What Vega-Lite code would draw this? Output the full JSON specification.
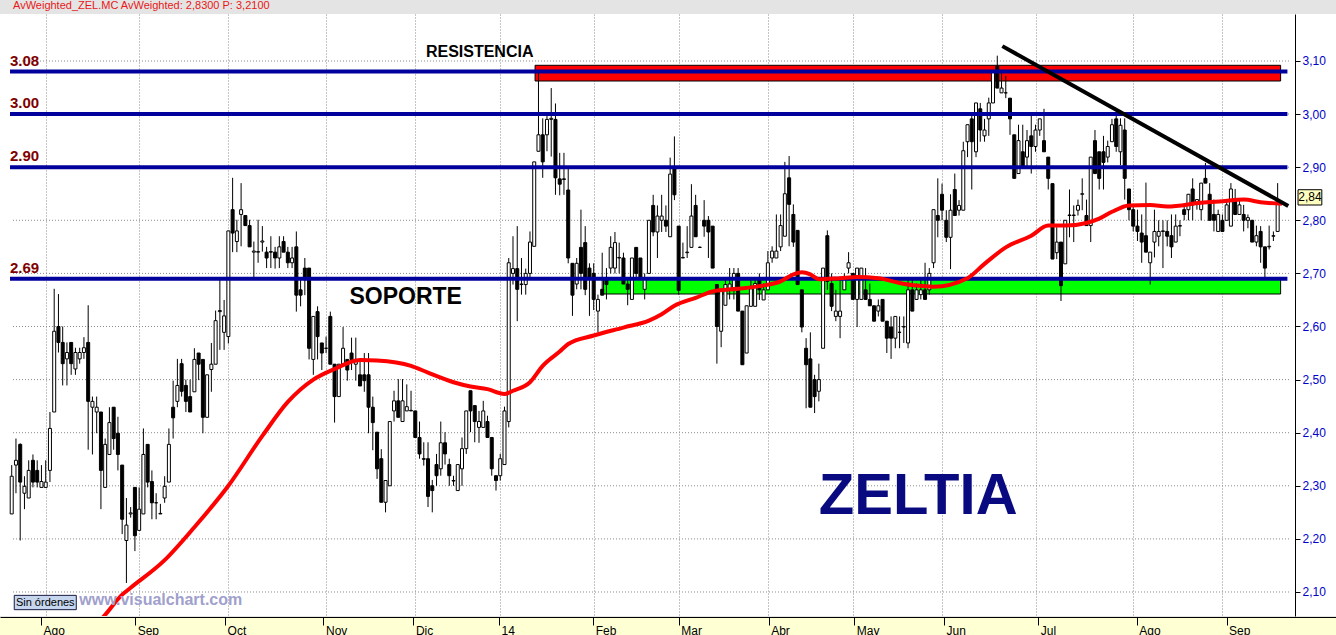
{
"$schema": "https://vega.github.io/schema/vega-lite/v6.json",
"background": "#E4E4E4",
"padding": 0,
"spacing": 0,
"config": {"view": {"stroke": null}, "font": "Liberation Sans", "axis": {"labelFont": "Liberation Sans"}},
"title": {"text": "AvWeighted_ZEL.MC  AvWeighted: 2,8300  P: 3,2100", "anchor": "start", "frame": "group", "dx": 13, "offset": 3, "fontSize": 11, "fontWeight": "normal", "font": "Liberation Sans", "color": "#E81818"},
"resolve": {"scale": {"x": "independent", "y": "independent"}},
"datasets": {
"grid": [{"v":2.1,"d":-7.7,"d2":293},{"v":2.2,"d":-7.7,"d2":293},{"v":2.3,"d":-7.7,"d2":293},{"v":2.4,"d":-7.7,"d2":293},{"v":2.5,"d":-7.7,"d2":293},{"v":2.6,"d":-7.7,"d2":293},{"v":2.7,"d":-7.7,"d2":293},{"v":2.8,"d":-7.7,"d2":293},{"v":2.9,"d":-7.7,"d2":293},{"v":3.0,"d":-7.7,"d2":293},{"v":3.1,"d":-7.7,"d2":293}],
"months": [{"d":0,"m":"Ago"},{"d":22,"m":"Sep"},{"d":43,"m":"Oct"},{"d":66,"m":"Nov"},{"d":87,"m":"Dic"},{"d":107,"m":"14"},{"d":129,"m":"Feb"},{"d":149,"m":"Mar"},{"d":170,"m":"Abr"},{"d":190,"m":"May"},{"d":211,"m":"Jun"},{"d":233,"m":"Jul"},{"d":256,"m":"Ago"},{"d":277,"m":"Sep"}],
"zones": [{"k":"resistencia","d":115.2,"d2":290.7,"v":3.0623,"v2":3.0919},{"k":"soporte","d":131.3,"d2":290.7,"v":2.6612,"v2":2.6913}],
"levels": [{"t":"3.08","v":3.08,"d":-8.4,"d2":292.3},{"t":"3.00","v":3.0,"d":-8.4,"d2":292.3},{"t":"2.90","v":2.9,"d":-8.4,"d2":292.3},{"t":"2.69","v":2.69,"d":-8.4,"d2":292.3}],
"trend": [{"d":225.2,"v":3.128},{"d":292.5,"v":2.827}],
"ma": [{"d":-3,"v":1.93},{"d":14,"v":2.057},{"d":18,"v":2.095},{"d":20,"v":2.108},{"d":28,"v":2.16},{"d":35,"v":2.222},{"d":43,"v":2.3},{"d":51,"v":2.394},{"d":57,"v":2.458},{"d":63,"v":2.5},{"d":68,"v":2.52},{"d":74,"v":2.537},{"d":78,"v":2.536},{"d":86,"v":2.526},{"d":90,"v":2.513},{"d":96,"v":2.495},{"d":100,"v":2.487},{"d":104,"v":2.482},{"d":108,"v":2.473},{"d":110,"v":2.479},{"d":114,"v":2.495},{"d":117,"v":2.526},{"d":121,"v":2.553},{"d":123,"v":2.567},{"d":129,"v":2.583},{"d":136,"v":2.598},{"d":142,"v":2.611},{"d":145,"v":2.623},{"d":148,"v":2.639},{"d":153,"v":2.654},{"d":157,"v":2.666},{"d":163,"v":2.671},{"d":168,"v":2.676},{"d":173,"v":2.685},{"d":176,"v":2.698},{"d":178,"v":2.702},{"d":180,"v":2.698},{"d":182,"v":2.689},{"d":187,"v":2.691},{"d":191,"v":2.693},{"d":196,"v":2.691},{"d":201,"v":2.682},{"d":205,"v":2.677},{"d":209,"v":2.675},{"d":217,"v":2.691},{"d":221,"v":2.718},{"d":226,"v":2.749},{"d":232,"v":2.771},{"d":236,"v":2.79},{"d":240,"v":2.79},{"d":245,"v":2.795},{"d":248,"v":2.803},{"d":251,"v":2.816},{"d":255,"v":2.828},{"d":260,"v":2.829},{"d":264,"v":2.826},{"d":272,"v":2.833},{"d":277,"v":2.836},{"d":282,"v":2.839},{"d":286,"v":2.834},{"d":291,"v":2.831}],
"notes": [{"t":"RESISTENCIA","d":89.5,"v":3.117}],
"notes2": [{"t":"SOPORTE","d":71.5,"v":2.6556}],
"notes3": [{"t":"ZELTIA","d":182,"v":2.279}],
"mark": [{"t":"www.visualchart.com","d":7.9,"v":2.085}],
"status": [{"t":"Sin órdenes","d":-7.4,"d2":7.2,"v":2.0667,"v2":2.0937,"dc":-0.1,"vc":2.08}],
"tag": [{"t":"2,84","d":294.8,"d2":300.4,"v":2.8288,"v2":2.8576,"dc":297.6,"vc":2.843}],
"candles": [
{"d":-8,"o":2.247,"h":2.339,"l":2.247,"c":2.318},{"d":-7,"o":2.339,"h":2.389,"l":2.286,"c":2.348},{"d":-6,"o":2.378,"h":2.38,"l":2.197,"c":2.307},{"d":-5,"o":2.286,"h":2.318,"l":2.256,"c":2.299},{"d":-4,"o":2.277,"h":2.348,"l":2.277,"c":2.329},{"d":-3,"o":2.348,"h":2.359,"l":2.297,"c":2.307},{"d":-2,"o":2.329,"h":2.348,"l":2.297,"c":2.307},{"d":-1,"o":2.297,"h":2.339,"l":2.297,"c":2.308},
{"d":0,"o":2.297,"h":2.348,"l":2.297,"c":2.307},{"d":1,"o":2.329,"h":2.439,"l":2.307,"c":2.408},{"d":2,"o":2.439,"h":2.671,"l":2.439,"c":2.591},{"d":3,"o":2.6,"h":2.661,"l":2.551,"c":2.57},{"d":4,"o":2.57,"h":2.6,"l":2.489,"c":2.53},{"d":5,"o":2.539,"h":2.57,"l":2.489,"c":2.551},{"d":6,"o":2.57,"h":2.57,"l":2.509,"c":2.53},{"d":7,"o":2.52,"h":2.56,"l":2.509,"c":2.551},{"d":8,"o":2.539,"h":2.56,"l":2.53,"c":2.551},{"d":9,"o":2.551,"h":2.58,"l":2.539,"c":2.56},
{"d":10,"o":2.57,"h":2.64,"l":2.368,"c":2.459},{"d":11,"o":2.448,"h":2.468,"l":2.359,"c":2.459},{"d":12,"o":2.439,"h":2.468,"l":2.399,"c":2.448},{"d":13,"o":2.439,"h":2.439,"l":2.256,"c":2.329},{"d":14,"o":2.297,"h":2.389,"l":2.297,"c":2.378},{"d":15,"o":2.359,"h":2.448,"l":2.359,"c":2.419},{"d":16,"o":2.448,"h":2.448,"l":2.368,"c":2.389},{"d":17,"o":2.399,"h":2.43,"l":2.329,"c":2.359},{"d":18,"o":2.339,"h":2.339,"l":2.209,"c":2.237},{"d":19,"o":2.197,"h":2.277,"l":2.117,"c":2.226},
{"d":20,"o":2.247,"h":2.26,"l":2.24,"c":2.249},{"d":21,"o":2.297,"h":2.297,"l":2.177,"c":2.206},{"d":22,"o":2.216,"h":2.297,"l":2.216,"c":2.256},{"d":23,"o":2.247,"h":2.408,"l":2.247,"c":2.359},{"d":24,"o":2.378,"h":2.378,"l":2.297,"c":2.307},{"d":25,"o":2.308,"h":2.329,"l":2.237,"c":2.268},{"d":26,"o":2.268,"h":2.286,"l":2.237,"c":2.268},{"d":27,"o":2.247,"h":2.266,"l":2.247,"c":2.248},{"d":28,"o":2.277,"h":2.318,"l":2.268,"c":2.299},{"d":29,"o":2.307,"h":2.408,"l":2.307,"c":2.378},
{"d":30,"o":2.448,"h":2.498,"l":2.389,"c":2.428},{"d":31,"o":2.459,"h":2.539,"l":2.448,"c":2.489},{"d":32,"o":2.53,"h":2.539,"l":2.468,"c":2.478},{"d":33,"o":2.489,"h":2.5,"l":2.439,"c":2.459},{"d":34,"o":2.468,"h":2.5,"l":2.439,"c":2.439},{"d":35,"o":2.477,"h":2.559,"l":2.477,"c":2.538},{"d":36,"o":2.55,"h":2.55,"l":2.499,"c":2.529},{"d":37,"o":2.538,"h":2.538,"l":2.399,"c":2.429},{"d":38,"o":2.429,"h":2.509,"l":2.429,"c":2.509},{"d":39,"o":2.519,"h":2.569,"l":2.477,"c":2.529},
{"d":40,"o":2.529,"h":2.63,"l":2.529,"c":2.611},{"d":41,"o":2.628,"h":2.688,"l":2.556,"c":2.63},{"d":42,"o":2.589,"h":2.65,"l":2.556,"c":2.62},{"d":43,"o":2.581,"h":2.78,"l":2.568,"c":2.78},{"d":44,"o":2.82,"h":2.88,"l":2.74,"c":2.776},{"d":45,"o":2.76,"h":2.801,"l":2.74,"c":2.78},{"d":46,"o":2.811,"h":2.87,"l":2.751,"c":2.82},{"d":47,"o":2.809,"h":2.809,"l":2.79,"c":2.79},{"d":48,"o":2.79,"h":2.801,"l":2.75,"c":2.75},{"d":49,"o":2.74,"h":2.76,"l":2.69,"c":2.742},
{"d":50,"o":2.74,"h":2.801,"l":2.72,"c":2.741},{"d":51,"o":2.759,"h":2.789,"l":2.741,"c":2.761},{"d":52,"o":2.74,"h":2.75,"l":2.71,"c":2.729},{"d":53,"o":2.741,"h":2.77,"l":2.71,"c":2.74},{"d":54,"o":2.74,"h":2.75,"l":2.709,"c":2.729},{"d":55,"o":2.729,"h":2.77,"l":2.71,"c":2.75},{"d":56,"o":2.76,"h":2.77,"l":2.74,"c":2.74},{"d":57,"o":2.74,"h":2.75,"l":2.71,"c":2.72},{"d":58,"o":2.72,"h":2.75,"l":2.71,"c":2.729},{"d":59,"o":2.75,"h":2.779,"l":2.628,"c":2.659},
{"d":60,"o":2.669,"h":2.689,"l":2.638,"c":2.659},{"d":61,"o":2.71,"h":2.729,"l":2.659,"c":2.688},{"d":62,"o":2.71,"h":2.71,"l":2.538,"c":2.559},{"d":63,"o":2.538,"h":2.619,"l":2.509,"c":2.619},{"d":64,"o":2.628,"h":2.638,"l":2.538,"c":2.581},{"d":65,"o":2.569,"h":2.569,"l":2.518,"c":2.55},{"d":66,"o":2.559,"h":2.581,"l":2.55,"c":2.559},{"d":67,"o":2.619,"h":2.628,"l":2.529,"c":2.529},{"d":68,"o":2.529,"h":2.529,"l":2.419,"c":2.468},{"d":69,"o":2.468,"h":2.529,"l":2.468,"c":2.529},
{"d":70,"o":2.529,"h":2.599,"l":2.529,"c":2.559},{"d":71,"o":2.538,"h":2.538,"l":2.498,"c":2.518},{"d":72,"o":2.55,"h":2.579,"l":2.518,"c":2.538},{"d":73,"o":2.529,"h":2.579,"l":2.498,"c":2.538},{"d":74,"o":2.509,"h":2.538,"l":2.488,"c":2.488},{"d":75,"o":2.509,"h":2.55,"l":2.477,"c":2.498},{"d":76,"o":2.509,"h":2.55,"l":2.399,"c":2.448},{"d":77,"o":2.448,"h":2.468,"l":2.367,"c":2.419},{"d":78,"o":2.401,"h":2.401,"l":2.313,"c":2.332},{"d":79,"o":2.351,"h":2.369,"l":2.269,"c":2.269},
{"d":80,"o":2.269,"h":2.31,"l":2.25,"c":2.31},{"d":81,"o":2.3,"h":2.421,"l":2.3,"c":2.421},{"d":82,"o":2.441,"h":2.479,"l":2.421,"c":2.46},{"d":83,"o":2.46,"h":2.501,"l":2.429,"c":2.429},{"d":84,"o":2.421,"h":2.501,"l":2.421,"c":2.46},{"d":85,"o":2.441,"h":2.491,"l":2.441,"c":2.449},{"d":86,"o":2.441,"h":2.479,"l":2.441,"c":2.442},{"d":87,"o":2.441,"h":2.441,"l":2.391,"c":2.391},{"d":88,"o":2.391,"h":2.421,"l":2.351,"c":2.36},{"d":89,"o":2.351,"h":2.382,"l":2.338,"c":2.35},
{"d":90,"o":2.351,"h":2.382,"l":2.26,"c":2.28},{"d":91,"o":2.3,"h":2.311,"l":2.25,"c":2.291},{"d":92,"o":2.34,"h":2.36,"l":2.3,"c":2.319},{"d":93,"o":2.332,"h":2.421,"l":2.319,"c":2.381},{"d":94,"o":2.381,"h":2.401,"l":2.34,"c":2.36},{"d":95,"o":2.34,"h":2.351,"l":2.3,"c":2.319},{"d":96,"o":2.31,"h":2.319,"l":2.3,"c":2.309},{"d":97,"o":2.291,"h":2.34,"l":2.291,"c":2.34},{"d":98,"o":2.332,"h":2.391,"l":2.3,"c":2.37},{"d":99,"o":2.37,"h":2.441,"l":2.36,"c":2.441},
{"d":100,"o":2.479,"h":2.479,"l":2.401,"c":2.441},{"d":101,"o":2.451,"h":2.451,"l":2.382,"c":2.421},{"d":102,"o":2.41,"h":2.441,"l":2.381,"c":2.421},{"d":103,"o":2.41,"h":2.46,"l":2.41,"c":2.441},{"d":104,"o":2.421,"h":2.432,"l":2.391,"c":2.391},{"d":105,"o":2.391,"h":2.391,"l":2.319,"c":2.332},{"d":106,"o":2.319,"h":2.319,"l":2.291,"c":2.31},{"d":107,"o":2.319,"h":2.36,"l":2.31,"c":2.351},{"d":108,"o":2.34,"h":2.449,"l":2.34,"c":2.441},{"d":109,"o":2.421,"h":2.729,"l":2.41,"c":2.72},
{"d":110,"o":2.7,"h":2.77,"l":2.679,"c":2.709},{"d":111,"o":2.709,"h":2.789,"l":2.61,"c":2.67},{"d":112,"o":2.679,"h":2.729,"l":2.66,"c":2.68},{"d":113,"o":2.679,"h":2.709,"l":2.66,"c":2.7},{"d":114,"o":2.7,"h":2.779,"l":2.689,"c":2.759},{"d":115,"o":2.751,"h":2.91,"l":2.751,"c":2.91},{"d":116,"o":2.93,"h":3.08,"l":2.93,"c":2.961},{"d":117,"o":2.961,"h":2.992,"l":2.88,"c":2.91},{"d":118,"o":2.961,"h":3.002,"l":2.93,"c":2.99},{"d":119,"o":2.99,"h":3.049,"l":2.92,"c":2.992},
{"d":120,"o":2.99,"h":3.02,"l":2.848,"c":2.88},{"d":121,"o":2.878,"h":2.927,"l":2.847,"c":2.868},{"d":122,"o":2.878,"h":2.927,"l":2.848,"c":2.877},{"d":123,"o":2.857,"h":2.899,"l":2.719,"c":2.729},{"d":124,"o":2.719,"h":2.719,"l":2.62,"c":2.659},{"d":125,"o":2.68,"h":2.729,"l":2.67,"c":2.719},{"d":126,"o":2.749,"h":2.82,"l":2.67,"c":2.7},{"d":127,"o":2.758,"h":2.789,"l":2.659,"c":2.67},{"d":128,"o":2.71,"h":2.719,"l":2.62,"c":2.689},{"d":129,"o":2.7,"h":2.719,"l":2.631,"c":2.651},
{"d":130,"o":2.629,"h":2.66,"l":2.589,"c":2.651},{"d":131,"o":2.67,"h":2.739,"l":2.659,"c":2.659},{"d":132,"o":2.689,"h":2.71,"l":2.651,"c":2.679},{"d":133,"o":2.71,"h":2.77,"l":2.7,"c":2.749},{"d":134,"o":2.71,"h":2.778,"l":2.7,"c":2.758},{"d":135,"o":2.729,"h":2.758,"l":2.7,"c":2.73},{"d":136,"o":2.729,"h":2.739,"l":2.68,"c":2.68},{"d":137,"o":2.68,"h":2.689,"l":2.64,"c":2.67},{"d":138,"o":2.651,"h":2.729,"l":2.651,"c":2.729},{"d":139,"o":2.749,"h":2.749,"l":2.689,"c":2.7},
{"d":140,"o":2.729,"h":2.729,"l":2.689,"c":2.689},{"d":141,"o":2.67,"h":2.7,"l":2.651,"c":2.689},{"d":142,"o":2.7,"h":2.8,"l":2.7,"c":2.8},{"d":143,"o":2.828,"h":2.848,"l":2.77,"c":2.778},{"d":144,"o":2.778,"h":2.828,"l":2.729,"c":2.808},{"d":145,"o":2.8,"h":2.848,"l":2.778,"c":2.808},{"d":146,"o":2.8,"h":2.828,"l":2.778,"c":2.789},{"d":147,"o":2.769,"h":2.918,"l":2.769,"c":2.887},{"d":148,"o":2.897,"h":2.958,"l":2.838,"c":2.848},{"d":149,"o":2.789,"h":2.789,"l":2.66,"c":2.668},
{"d":150,"o":2.729,"h":2.758,"l":2.729,"c":2.73},{"d":151,"o":2.739,"h":2.789,"l":2.729,"c":2.74},{"d":152,"o":2.749,"h":2.868,"l":2.749,"c":2.808},{"d":153,"o":2.828,"h":2.848,"l":2.769,"c":2.769},{"d":154,"o":2.749,"h":2.751,"l":2.748,"c":2.749},{"d":155,"o":2.8,"h":2.838,"l":2.769,"c":2.789},{"d":156,"o":2.8,"h":2.808,"l":2.729,"c":2.778},{"d":157,"o":2.789,"h":2.789,"l":2.71,"c":2.71},{"d":158,"o":2.679,"h":2.679,"l":2.53,"c":2.6},{"d":159,"o":2.591,"h":2.67,"l":2.561,"c":2.67},
{"d":160,"o":2.64,"h":2.689,"l":2.64,"c":2.679},{"d":161,"o":2.67,"h":2.71,"l":2.651,"c":2.68},{"d":162,"o":2.67,"h":2.71,"l":2.651,"c":2.7},{"d":163,"o":2.7,"h":2.71,"l":2.629,"c":2.629},{"d":164,"o":2.629,"h":2.629,"l":2.528,"c":2.528},{"d":165,"o":2.55,"h":2.639,"l":2.55,"c":2.639},{"d":166,"o":2.638,"h":2.688,"l":2.638,"c":2.671},{"d":167,"o":2.638,"h":2.689,"l":2.638,"c":2.681},{"d":168,"o":2.688,"h":2.7,"l":2.65,"c":2.669},{"d":169,"o":2.65,"h":2.681,"l":2.65,"c":2.669},
{"d":170,"o":2.669,"h":2.742,"l":2.669,"c":2.72},{"d":171,"o":2.729,"h":2.751,"l":2.72,"c":2.742},{"d":172,"o":2.729,"h":2.811,"l":2.729,"c":2.742},{"d":173,"o":2.75,"h":2.811,"l":2.742,"c":2.79},{"d":174,"o":2.77,"h":2.91,"l":2.77,"c":2.85},{"d":175,"o":2.88,"h":2.921,"l":2.751,"c":2.83},{"d":176,"o":2.811,"h":2.83,"l":2.75,"c":2.759},{"d":177,"o":2.781,"h":2.781,"l":2.679,"c":2.679},{"d":178,"o":2.669,"h":2.669,"l":2.589,"c":2.599},{"d":179,"o":2.559,"h":2.578,"l":2.446,"c":2.528},
{"d":180,"o":2.539,"h":2.589,"l":2.448,"c":2.448},{"d":181,"o":2.5,"h":2.509,"l":2.437,"c":2.468},{"d":182,"o":2.478,"h":2.53,"l":2.459,"c":2.5},{"d":183,"o":2.559,"h":2.71,"l":2.559,"c":2.71},{"d":184,"o":2.771,"h":2.781,"l":2.669,"c":2.685},{"d":185,"o":2.681,"h":2.7,"l":2.629,"c":2.638},{"d":186,"o":2.619,"h":2.669,"l":2.61,"c":2.629},{"d":187,"o":2.619,"h":2.689,"l":2.578,"c":2.629},{"d":188,"o":2.669,"h":2.7,"l":2.669,"c":2.689},{"d":189,"o":2.71,"h":2.74,"l":2.7,"c":2.72},
{"d":190,"o":2.7,"h":2.7,"l":2.651,"c":2.651},{"d":191,"o":2.651,"h":2.71,"l":2.599,"c":2.71},{"d":192,"o":2.651,"h":2.71,"l":2.651,"c":2.71},{"d":193,"o":2.669,"h":2.71,"l":2.651,"c":2.651},{"d":194,"o":2.651,"h":2.681,"l":2.639,"c":2.639},{"d":195,"o":2.639,"h":2.639,"l":2.61,"c":2.61},{"d":196,"o":2.629,"h":2.651,"l":2.619,"c":2.639},{"d":197,"o":2.651,"h":2.651,"l":2.61,"c":2.61},{"d":198,"o":2.61,"h":2.61,"l":2.55,"c":2.578},{"d":199,"o":2.599,"h":2.619,"l":2.539,"c":2.578},
{"d":200,"o":2.578,"h":2.619,"l":2.559,"c":2.619},{"d":201,"o":2.589,"h":2.619,"l":2.559,"c":2.589},{"d":202,"o":2.599,"h":2.619,"l":2.569,"c":2.6},{"d":203,"o":2.569,"h":2.689,"l":2.559,"c":2.669},{"d":204,"o":2.669,"h":2.689,"l":2.629,"c":2.629},{"d":205,"o":2.651,"h":2.681,"l":2.651,"c":2.669},{"d":206,"o":2.66,"h":2.689,"l":2.651,"c":2.669},{"d":207,"o":2.669,"h":2.72,"l":2.651,"c":2.651},{"d":208,"o":2.669,"h":2.71,"l":2.66,"c":2.7},{"d":209,"o":2.72,"h":2.82,"l":2.71,"c":2.82},
{"d":210,"o":2.809,"h":2.879,"l":2.768,"c":2.8},{"d":211,"o":2.849,"h":2.869,"l":2.8,"c":2.819},{"d":212,"o":2.8,"h":2.819,"l":2.759,"c":2.768},{"d":213,"o":2.768,"h":2.849,"l":2.708,"c":2.819},{"d":214,"o":2.858,"h":2.888,"l":2.809,"c":2.809},{"d":215,"o":2.819,"h":2.838,"l":2.809,"c":2.828},{"d":216,"o":2.819,"h":2.948,"l":2.819,"c":2.931},{"d":217,"o":2.948,"h":2.98,"l":2.919,"c":2.98},{"d":218,"o":2.991,"h":3.001,"l":2.858,"c":2.948},{"d":219,"o":2.929,"h":3.021,"l":2.919,"c":3.021},
{"d":220,"o":3.01,"h":3.021,"l":2.948,"c":2.97},{"d":221,"o":2.959,"h":2.991,"l":2.948,"c":2.97},{"d":222,"o":2.991,"h":3.031,"l":2.959,"c":3.021},{"d":223,"o":3.021,"h":3.079,"l":3.021,"c":3.079},{"d":224,"o":3.09,"h":3.11,"l":3.049,"c":3.049},{"d":225,"o":3.04,"h":3.081,"l":3.04,"c":3.049},{"d":226,"o":3.04,"h":3.072,"l":3.03,"c":3.04},{"d":227,"o":3.03,"h":3.03,"l":2.961,"c":2.991},{"d":228,"o":2.961,"h":2.961,"l":2.879,"c":2.879},{"d":229,"o":2.888,"h":2.98,"l":2.888,"c":2.95},
{"d":230,"o":2.929,"h":2.98,"l":2.901,"c":2.901},{"d":231,"o":2.919,"h":2.97,"l":2.901,"c":2.95},{"d":232,"o":2.959,"h":3.001,"l":2.888,"c":2.939},{"d":233,"o":2.939,"h":2.98,"l":2.929,"c":2.97},{"d":234,"o":2.97,"h":2.991,"l":2.959,"c":2.991},{"d":235,"o":2.95,"h":3.01,"l":2.929,"c":2.929},{"d":236,"o":2.919,"h":2.919,"l":2.858,"c":2.879},{"d":237,"o":2.869,"h":2.869,"l":2.727,"c":2.727},{"d":238,"o":2.739,"h":2.787,"l":2.727,"c":2.759},{"d":239,"o":2.759,"h":2.759,"l":2.648,"c":2.677},
{"d":240,"o":2.718,"h":2.8,"l":2.718,"c":2.8},{"d":241,"o":2.809,"h":2.858,"l":2.768,"c":2.81},{"d":242,"o":2.809,"h":2.828,"l":2.759,"c":2.81},{"d":243,"o":2.819,"h":2.839,"l":2.809,"c":2.828},{"d":244,"o":2.849,"h":2.879,"l":2.819,"c":2.85},{"d":245,"o":2.809,"h":2.839,"l":2.79,"c":2.79},{"d":246,"o":2.79,"h":2.919,"l":2.759,"c":2.919},{"d":247,"o":2.95,"h":2.97,"l":2.888,"c":2.888},{"d":248,"o":2.929,"h":2.929,"l":2.858,"c":2.879},{"d":249,"o":2.929,"h":2.959,"l":2.858,"c":2.909},
{"d":250,"o":2.919,"h":2.95,"l":2.909,"c":2.939},{"d":251,"o":2.948,"h":2.991,"l":2.948,"c":2.98},{"d":252,"o":2.991,"h":3.001,"l":2.929,"c":2.939},{"d":253,"o":2.929,"h":2.992,"l":2.904,"c":2.979},{"d":254,"o":2.97,"h":2.992,"l":2.839,"c":2.879},{"d":255,"o":2.859,"h":2.859,"l":2.8,"c":2.82},{"d":256,"o":2.82,"h":2.829,"l":2.779,"c":2.789},{"d":257,"o":2.789,"h":2.82,"l":2.761,"c":2.779},{"d":258,"o":2.776,"h":2.811,"l":2.72,"c":2.759},{"d":259,"o":2.771,"h":2.871,"l":2.74,"c":2.74},
{"d":260,"o":2.72,"h":2.74,"l":2.679,"c":2.74},{"d":261,"o":2.759,"h":2.82,"l":2.73,"c":2.779},{"d":262,"o":2.77,"h":2.8,"l":2.751,"c":2.779},{"d":263,"o":2.779,"h":2.8,"l":2.71,"c":2.78},{"d":264,"o":2.779,"h":2.8,"l":2.751,"c":2.77},{"d":265,"o":2.771,"h":2.811,"l":2.729,"c":2.75},{"d":266,"o":2.759,"h":2.811,"l":2.759,"c":2.789},{"d":267,"o":2.789,"h":2.8,"l":2.77,"c":2.79},{"d":268,"o":2.82,"h":2.829,"l":2.8,"c":2.811},{"d":269,"o":2.82,"h":2.849,"l":2.8,"c":2.849},
{"d":270,"o":2.859,"h":2.879,"l":2.8,"c":2.829},{"d":271,"o":2.83,"h":2.839,"l":2.82,"c":2.839},{"d":272,"o":2.82,"h":2.87,"l":2.8,"c":2.87},{"d":273,"o":2.879,"h":2.908,"l":2.87,"c":2.87},{"d":274,"o":2.849,"h":2.87,"l":2.8,"c":2.8},{"d":275,"o":2.811,"h":2.839,"l":2.779,"c":2.8},{"d":276,"o":2.779,"h":2.82,"l":2.779,"c":2.811},{"d":277,"o":2.8,"h":2.811,"l":2.779,"c":2.779},{"d":278,"o":2.8,"h":2.839,"l":2.8,"c":2.829},{"d":279,"o":2.789,"h":2.87,"l":2.789,"c":2.859},
{"d":280,"o":2.839,"h":2.859,"l":2.811,"c":2.811},{"d":281,"o":2.811,"h":2.839,"l":2.811,"c":2.829},{"d":282,"o":2.811,"h":2.829,"l":2.779,"c":2.8},{"d":283,"o":2.8,"h":2.811,"l":2.785,"c":2.805},{"d":284,"o":2.8,"h":2.8,"l":2.759,"c":2.759},{"d":285,"o":2.759,"h":2.79,"l":2.751,"c":2.771},{"d":286,"o":2.779,"h":2.789,"l":2.72,"c":2.75},{"d":287,"o":2.75,"h":2.75,"l":2.689,"c":2.71},{"d":288,"o":2.75,"h":2.79,"l":2.745,"c":2.751},{"d":289,"o":2.77,"h":2.779,"l":2.761,"c":2.771},
{"d":290,"o":2.779,"h":2.87,"l":2.779,"c":2.839}
]
},
"vconcat": [
{
"width": 1336, "height": 602,
"view": {"fill": "white", "stroke": null},
"layer": [
{"data": {"name": "grid"}, "mark": {"type": "rule", "color": "#8a8a8a", "strokeDash": [1, 2], "strokeWidth": 1},
 "encoding": {
  "x": {"field": "d", "type": "quantitative", "title": null, "scale": {"domain": [-9.58, 302.56], "nice": false, "zero": false},
        "axis": {"values": [0,22,43,66,87,107,129,149,170,190,211,233,256,277], "grid": true, "gridColor": "#8a8a8a", "gridDash": [1, 2], "labels": false, "ticks": false, "domain": false, "title": null}},
  "x2": {"field": "d2"},
  "y": {"field": "v", "type": "quantitative", "title": null, "scale": {"domain": [2.0548, 3.1885], "nice": false, "zero": false},
        "axis": {"orient": "right", "offset": -41, "values": [2.1,2.2,2.3,2.4,2.5,2.6,2.7,2.8,2.9,3.0,3.1], "grid": false, "domainColor": "black", "tickColor": "black", "tickSize": 5, "labelPadding": 2, "labelColor": "#0000CC", "labelFontSize": 12, "labelFont": "Liberation Sans", "labelExpr": "replace(format(datum.value, '.2f'), '.', ',')", "title": null}}
 }},
{"data": {"name": "zones"}, "mark": {"type": "rect", "stroke": "black", "strokeWidth": 1},
 "encoding": {
  "x": {"field": "d", "type": "quantitative", "title": null}, "x2": {"field": "d2"},
  "y": {"field": "v", "type": "quantitative", "title": null}, "y2": {"field": "v2"},
  "fill": {"field": "k", "type": "nominal", "scale": {"domain": ["resistencia", "soporte"], "range": ["#FF0000", "#00FF00"]}, "legend": null}
 }},
{"data": {"name": "candles"}, "mark": {"type": "rule", "color": "black", "strokeWidth": 1},
 "encoding": {
  "x": {"field": "d", "type": "quantitative", "title": null},
  "y": {"field": "l", "type": "quantitative", "title": null}, "y2": {"field": "h"}
 }},
{"data": {"name": "candles"}, "mark": {"type": "bar", "size": 3, "stroke": "black", "strokeWidth": 1},
 "encoding": {
  "x": {"field": "d", "type": "quantitative", "title": null},
  "y": {"field": "o", "type": "quantitative", "title": null}, "y2": {"field": "c"},
  "fill": {"condition": {"test": "datum.c >= datum.o", "value": "white"}, "value": "black"}
 }},
{"data": {"name": "levels"}, "mark": {"type": "rule", "color": "#00009C", "strokeWidth": 4},
 "encoding": {
  "x": {"field": "d", "type": "quantitative", "title": null}, "x2": {"field": "d2"},
  "y": {"field": "v", "type": "quantitative", "title": null}
 }},
{"data": {"name": "ma"}, "mark": {"type": "line", "color": "#FF0000", "strokeWidth": 4, "clip": true, "interpolate": "monotone"},
 "encoding": {
  "x": {"field": "d", "type": "quantitative", "title": null},
  "y": {"field": "v", "type": "quantitative", "title": null}
 }},
{"data": {"name": "trend"}, "mark": {"type": "line", "color": "black", "strokeWidth": 4},
 "encoding": {
  "x": {"field": "d", "type": "quantitative", "title": null},
  "y": {"field": "v", "type": "quantitative", "title": null}
 }},
{"data": {"name": "levels"}, "mark": {"type": "text", "align": "left", "baseline": "alphabetic", "dy": -6, "fontSize": 15, "fontWeight": "bold", "font": "Liberation Sans", "color": "#800000"},
 "encoding": {
  "x": {"field": "d", "type": "quantitative", "title": null},
  "y": {"field": "v", "type": "quantitative", "title": null},
  "text": {"field": "t"}
 }},
{"data": {"name": "notes"}, "mark": {"type": "text", "align": "left", "baseline": "middle", "fontSize": 16, "fontWeight": "bold", "font": "Liberation Sans", "color": "black"},
 "encoding": {"x": {"field": "d", "type": "quantitative", "title": null}, "y": {"field": "v", "type": "quantitative", "title": null}, "text": {"field": "t"}}},
{"data": {"name": "notes2"}, "mark": {"type": "text", "align": "left", "baseline": "middle", "fontSize": 23, "fontWeight": "bold", "font": "Liberation Sans", "color": "black"},
 "encoding": {"x": {"field": "d", "type": "quantitative", "title": null}, "y": {"field": "v", "type": "quantitative", "title": null}, "text": {"field": "t"}}},
{"data": {"name": "notes3"}, "mark": {"type": "text", "align": "left", "baseline": "middle", "fontSize": 58, "fontWeight": "bold", "font": "Liberation Sans", "color": "#0A0A80"},
 "encoding": {"x": {"field": "d", "type": "quantitative", "title": null}, "y": {"field": "v", "type": "quantitative", "title": null}, "text": {"field": "t"}}},
{"data": {"name": "mark"}, "mark": {"type": "text", "align": "left", "baseline": "middle", "fontSize": 16, "fontWeight": "bold", "font": "Liberation Sans", "color": "#A0A0CC"},
 "encoding": {"x": {"field": "d", "type": "quantitative", "title": null}, "y": {"field": "v", "type": "quantitative", "title": null}, "text": {"field": "t"}}},
{"data": {"name": "status"}, "mark": {"type": "rect", "fill": "#C6D6EE", "stroke": "#1A1A40", "strokeWidth": 1},
 "encoding": {"x": {"field": "d", "type": "quantitative", "title": null}, "x2": {"field": "d2"}, "y": {"field": "v", "type": "quantitative", "title": null}, "y2": {"field": "v2"}}},
{"data": {"name": "status"}, "mark": {"type": "text", "align": "center", "baseline": "middle", "fontSize": 11, "font": "Liberation Sans", "color": "black"},
 "encoding": {"x": {"field": "dc", "type": "quantitative", "title": null}, "y": {"field": "vc", "type": "quantitative", "title": null}, "text": {"field": "t"}}},
{"data": {"name": "tag"}, "mark": {"type": "rect", "fill": "#FFFFC0", "stroke": "black", "strokeWidth": 1},
 "encoding": {"x": {"field": "d", "type": "quantitative", "title": null}, "x2": {"field": "d2"}, "y": {"field": "v", "type": "quantitative", "title": null}, "y2": {"field": "v2"}}},
{"data": {"name": "tag"}, "mark": {"type": "text", "align": "center", "baseline": "middle", "fontSize": 12, "font": "Liberation Sans", "color": "black"},
 "encoding": {"x": {"field": "dc", "type": "quantitative", "title": null}, "y": {"field": "vc", "type": "quantitative", "title": null}, "text": {"field": "t"}}}
]
},
{
"width": 1336, "height": 18,
"view": {"fill": "#FFFFD4", "stroke": null},
"data": {"name": "months"},
"mark": {"type": "point", "opacity": 0},
"encoding": {
 "x": {"field": "d", "type": "quantitative", "title": null, "scale": {"domain": [-9.58, 302.56], "nice": false, "zero": false},
  "axis": {"orient": "bottom", "offset": -18, "values": [0,22,43,66,87,107,129,149,170,190,211,233,256,277],
   "labelExpr": "['Ago','Sep','Oct','Nov','Dic','14','Feb','Mar','Abr','May','Jun','Jul','Ago','Sep'][indexof([0,22,43,66,87,107,129,149,170,190,211,233,256,277], datum.value)]",
   "tickSize": 8, "tickColor": "black", "domainColor": "black", "labelColor": "black", "labelFontSize": 12, "labelFont": "Liberation Sans",
   "labelAlign": "left", "labelBaseline": "top", "labelPadding": 0, "labelOffset": 2, "labelFlush": false, "labelOverlap": false, "labelBound": false, "grid": false, "title": null}}
}
}
]
}
